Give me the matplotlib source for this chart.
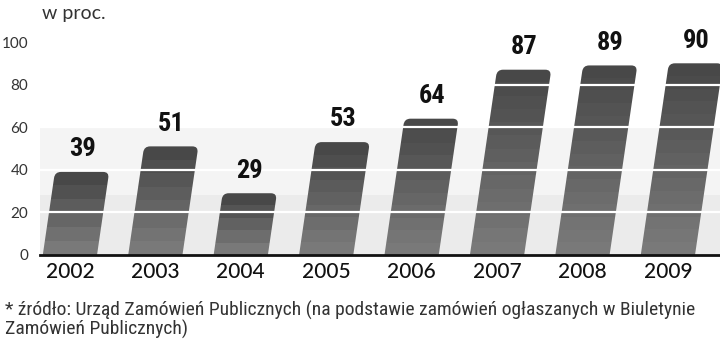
import numpy as np
import matplotlib
matplotlib.use("Agg")
import matplotlib.pyplot as plt
from matplotlib.path import Path
from matplotlib.patches import PathPatch
from matplotlib import font_manager

years = ["2002", "2003", "2004", "2005", "2006", "2007", "2008", "2009"]
values = [39, 51, 29, 53, 64, 87, 89, 90]
yticks = [0, 20, 40, 60, 80, 100]
title = "w proc."
footnote = ("* źródło: Urząd Zamówień Publicznych (na podstawie zamówień ogłaszanych w Biuletynie\n"
            "Zamówień Publicznych)")

def fam(*names):
    avail = {f.name for f in font_manager.fontManager.ttflist}
    for n in names:
        if n in avail:
            return n
    return "DejaVu Sans"

narrow = fam("Liberation Sans Narrow", "Roboto Condensed", "Liberation Sans")
light = fam("Lato", "Open Sans", "Roboto")

fig = plt.figure(figsize=(7.2, 3.46), dpi=100)
ax = fig.add_axes([40/720, 1-255/346, 680/720, (255-42)/346])
ax.set_xlim(-0.35, 7.61)
ax.set_ylim(0, 100)

ax.axhspan(0, 28, color="#ebebeb", zorder=0, lw=0)
ax.axhspan(28, 60, color="#f4f4f4", zorder=0, lw=0)

w = 0.635
slant = 0.00365
rx, ry = 6/85.4, 6/2.13
for i, v in enumerate(values):
    x0, x1 = i - w/2, i + w/2
    s = slant * v
    verts = [(x0, 0), (x1, 0), (x1 + s - rx*0.15, v - ry),
             (x1 + s, v), (x1 + s - rx, v),
             (x0 + s + rx, v),
             (x0 + s, v), (x0 + s - rx*0.15, v - ry),
             (x0, 0)]
    codes = [Path.MOVETO, Path.LINETO, Path.LINETO,
             Path.CURVE3, Path.CURVE3,
             Path.LINETO,
             Path.CURVE3, Path.CURVE3,
             Path.CLOSEPOLY]
    patch = PathPatch(Path(verts, codes), facecolor="none", edgecolor="none", zorder=2)
    ax.add_patch(patch)
    n = max(3, int(round(v / 6)))
    fr = np.linspace(0, 1, n)
    shades = 0x48 + (0x7a - 0x48) * fr  # top dark, bottom light
    img = np.repeat(shades[:, None], 2, axis=1) / 255.0
    im = ax.imshow(img, cmap="gray", vmin=0, vmax=1, extent=(x0 - 0.02, x1 + s + 0.02, 0, v),
                   origin="upper", aspect="auto", interpolation="nearest", zorder=2)
    im.set_clip_path(patch)
    ax.text(i + s, v + 5, str(v), ha="center", va="bottom", fontsize=19,
            fontweight="bold", family=narrow, color="#111111", zorder=5)

for g in [20, 40, 60, 80]:
    ax.axhline(g, color="white", lw=1.6, zorder=3)

ax.set_aspect("auto")
ax.set_xlim(-0.35, 7.61)
ax.set_ylim(0, 100)
for sp in ["left", "right", "top"]:
    ax.spines[sp].set_visible(False)
ax.spines["bottom"].set_linewidth(2)
ax.spines["bottom"].set_color("#111111")
ax.spines["bottom"].set_zorder(6)
ax.set_xticks(range(len(years)))
ax.set_xticklabels(years, fontsize=15, family=light, fontweight="medium", color="#111111")
ax.set_yticks(yticks)
ax.set_yticklabels([str(t) for t in yticks], fontsize=11, family=light, fontweight="normal", color="#333333")
ax.tick_params(axis="both", length=0)
ax.tick_params(axis="x", pad=5)
ax.tick_params(axis="y", pad=8.5)

fig.text(42/720, 1-14/346, title, fontsize=14, family=light, fontweight="normal",
         ha="left", va="center", color="#333333")
fig.text(5/720, 1-301/346, footnote, fontsize=14, family=narrow, ha="left", va="top",
         color="#333333", linespacing=0.95)

fig.savefig("out.png", dpi=100)
